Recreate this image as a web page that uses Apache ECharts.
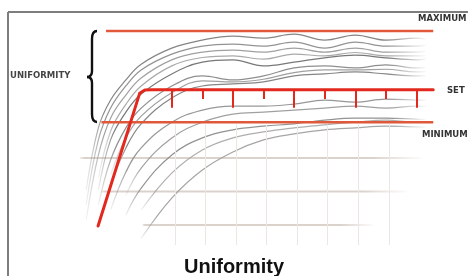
<!DOCTYPE html>
<html>
<head>
<meta charset="utf-8">
<script src="https://cdn.jsdelivr.net/npm/echarts@6/dist/echarts.min.js"></script>
<style>
  html, body { margin: 0; padding: 0; background: #fff; }
  #main { width: 468px; height: 276px; }
</style>
</head>
<body>
<div id="main"></div>
<script>
// time axis samples shared by the gray measurement curves
var XS = [0.2, 0.6, 1, 1.5, 2, 3, 4, 5, 6, 7, 8, 9, 10, 11, 11.3];

// gray measurement curves (uniformity value at each XS)
var C1  = [20.4, 39, 47.3, 53.3, 58, 62.8, 65.2, 66.4, 65.8, 67, 65.2, 66.7, 65.2, 65.8, 65.5];
var C2  = [16, 35.4, 44.9, 51.5, 56.3, 61, 63.4, 64, 63.4, 64.6, 62.8, 64.6, 63.4, 63.4, 63.6];
var C3  = [11.5, 30.9, 41.9, 48.8, 53.9, 59.3, 61.6, 62.2, 61.6, 62.8, 61.6, 62.8, 61.6, 61.6, 61.8];
var C4  = [null, 20.4, 35.4, 43.7, 49.1, 55.1, 58.6, 59.3, 57.5, 58.6, 59.9, 60.7, 59.9, 59.3, 59.5];
var C5  = [null, 16, 29.4, 39, 44.9, 51.5, 54.5, 53.3, 54.5, 56.9, 57.5, 56.9, 57.8, 56.9, 57];
var C6  = [null, null, 21.9, 33, 40.2, 47.9, 51.5, 52.1, 52.7, 54.5, 55.1, 55.7, 55.1, 54.5, 54.6];
var C7  = [null, null, 14.5, 25.8, 33, 40.7, 44.3, 45.5, 45.5, 46.1, 47.3, 46.7, 47.6, 47.3, 47.2];
var C8  = [null, null, null, 18.9, 27, 36, 40.7, 43.1, 43.7, 44.3, 44.9, 45.5, 44.9, 45.5, 45.4];
var C9  = [null, null, null, 13, 21, 30.9, 36, 38.4, 39.5, 40.2, 41.3, 41.9, 41.9, 41.6, 41.5];
var C10 = [null, null, null, null, 14.5, 25.5, 32.4, 36, 37.8, 39, 39.9, 40.7, 41.3, 40.7, 40.8];
var C11 = [null, null, null, null, 6, 18, 26.4, 31.8, 35.4, 37.2, 38.4, 39, 39.5, 39.3, 39.2];
var C12 = [null, 24, 38, 46, 51.5, 57.5, 60, 60.5, 59.5, 61, 60.5, 61.5, 60.5, 60.5, 60.5];
var C13 = [null, null, 25, 36, 42.5, 49.5, 53, 52.7, 53.5, 55.5, 56.3, 56.3, 56.5, 55.7, 55.8];
var CURVES = [C1, C2, C3, C12, C4, C5, C13, C6, C7, C8, C9, C10, C11];
var CURVE_GRAY = [120, 135, 150, 160, 105, 130, 150, 120, 140, 150, 135, 165, 155];

// limit lines
var MAX_LEVEL = 67.9, MAX_FROM = 0.85, MAX_TO = 11.55;
var MIN_LEVEL = 40.7, MIN_FROM = 0.7, MIN_TO = 11.55;

// set-point profile (ramp then flat)
var SET_X = [0.59, 1.95, 2.12, 2.35, 11.55];
var SET_Y = [9.7, 49.3, 50.3, 50.4, 50.4];

// tolerance ticks hanging from the set line
var TICK_X = [3, 4, 5, 6, 7, 8, 9, 10, 11];
var TICK_END = [45, 47.6, 45, 47.6, 45, 47.6, 45, 47.6, 45];

// faint reference lines in the lower area
var REF_LEVELS = [30, 20, 10];
var REF_FROM = [0, 0.7, 2.05];
var REF_TO = [11.2, 10.7, 9.6];
var VGRID_X = [3.1, 4.1, 5.1, 6.1, 7.1, 8.1, 9.1, 10.1];

var chart = echarts.init(document.getElementById('main'));

function fade(r, g, b, a, start, end) {
    var c = 'rgba(' + r + ',' + g + ',' + b + ',';
    return {
        type: 'linear', x: 0, y: 0, x2: 1, y2: 0,
        colorStops: [
            { offset: 0, color: c + '0)' },
            { offset: start, color: c + a + ')' },
            { offset: end, color: c + a + ')' },
            { offset: 1, color: c + '0)' }
        ]
    };
}

var series = [];

// beige reference lines + faint verticals
REF_LEVELS.forEach(function (lv, i) {
    series.push({
        type: 'line', silent: true, symbol: 'none', z: 1,
        data: [[REF_FROM[i], lv], [REF_TO[i], lv]],
        lineStyle: { width: 2, color: fade(220, 210, 204, 1, 0.02, 0.85) }
    });
});
series.push({
    type: 'line', silent: true, symbol: 'none', z: 1, data: [],
    markLine: {
        silent: true, symbol: 'none', label: { show: false },
        lineStyle: { color: '#ece7e3', width: 1, type: 'solid' },
        data: VGRID_X.map(function (x) { return [{ coord: [x, 4] }, { coord: [x, 40] }]; })
    }
});

// gray curves
CURVES.forEach(function (c, i) {
    var g = CURVE_GRAY[i];
    series.push({
        type: 'line', silent: true, symbol: 'none', smooth: 0.4, z: 2,
        data: XS.map(function (x, j) { return [x, c[j]]; }),
        lineStyle: { width: 1.2, color: fade(g, g, g, 0.9, 0.06, 0.88) }
    });
});

// limits
series.push({
    type: 'line', silent: true, symbol: 'none', z: 3,
    data: [[MAX_FROM, MAX_LEVEL], [MAX_TO, MAX_LEVEL]],
    lineStyle: { width: 2.5, color: '#e2583a' }
});
series.push({
    type: 'line', silent: true, symbol: 'none', z: 3,
    data: [[MIN_FROM, MIN_LEVEL], [MIN_TO, MIN_LEVEL]],
    lineStyle: { width: 2.5, color: '#e0583a' }
});
series.push({
    type: 'line', silent: true, symbol: 'none', z: 4,
    data: SET_X.map(function (x, i) { return [x, SET_Y[i]]; }),
    lineStyle: { width: 3, color: '#e3291d', join: 'round', cap: 'round' },
    markLine: {
        silent: true, symbol: 'none', label: { show: false },
        lineStyle: { color: '#e3291d', width: 2, type: 'solid' },
        data: TICK_X.map(function (x, i) {
            return [{ coord: [x, SET_Y[SET_Y.length - 1]] }, { coord: [x, TICK_END[i]] }];
        })
    }
});

function cap(text, left, top, fill) {
    return { type: 'text', left: left, top: top, z: 10,
        style: { text: text, fontSize: 8.5, fontWeight: 'bold', fontFamily: 'DejaVu Sans', fill: fill || '#333' } };
}
var ink = { stroke: '#111', lineWidth: 2.4, fill: 'none' };
function seg(x1, y1, x2, y2) {
    return { type: 'line', z: 10, shape: { x1: x1, y1: y1, x2: x2, y2: y2 }, style: ink };
}
function curl(x1, y1, cx, cy, x2, y2) {
    return { type: 'bezierCurve', z: 10, shape: { x1: x1, y1: y1, cpx1: cx, cpy1: cy, x2: x2, y2: y2 }, style: ink };
}
var frame = { stroke: '#7d7d7d', lineWidth: 2 };

chart.setOption({
    backgroundColor: '#ffffff',
    animation: false,
    title: {
        text: 'Uniformity',
        left: 'center',
        top: 252,
        textStyle: { fontSize: 20, fontWeight: 'bold', color: '#111', fontFamily: 'Liberation Sans' }
    },
    grid: { left: 80, right: 21, top: 24, bottom: 17.5 },
    xAxis: {
        type: 'value', min: 0, max: 12, interval: 1,
        axisLine: { show: false }, axisTick: { show: false },
        axisLabel: { show: false }, splitLine: { show: false }
    },
    yAxis: {
        type: 'value', min: 0, max: 70, interval: 10,
        axisLine: { show: false }, axisTick: { show: false },
        axisLabel: { show: false }, splitLine: { show: false }
    },
    graphic: [
        { type: 'line', z: 10, shape: { x1: 8, y1: 12, x2: 468, y2: 12 }, style: frame },
        { type: 'line', z: 10, shape: { x1: 8, y1: 12, x2: 8, y2: 276 }, style: frame },
        curl(97, 31, 92, 31, 92, 39),
        seg(92, 39, 92, 71),
        curl(92, 71, 92, 77, 87, 77),
        curl(87, 77, 92, 77, 92, 83),
        seg(92, 83, 92, 114),
        curl(92, 114, 92, 122, 97, 122),
        cap('UNIFORMITY', 10, 71, '#444'),
        cap('MAXIMUM', 418, 14),
        cap('SET', 447, 86),
        cap('MINIMUM', 422, 130)
    ],
    series: series
});
</script>
</body>
</html>
